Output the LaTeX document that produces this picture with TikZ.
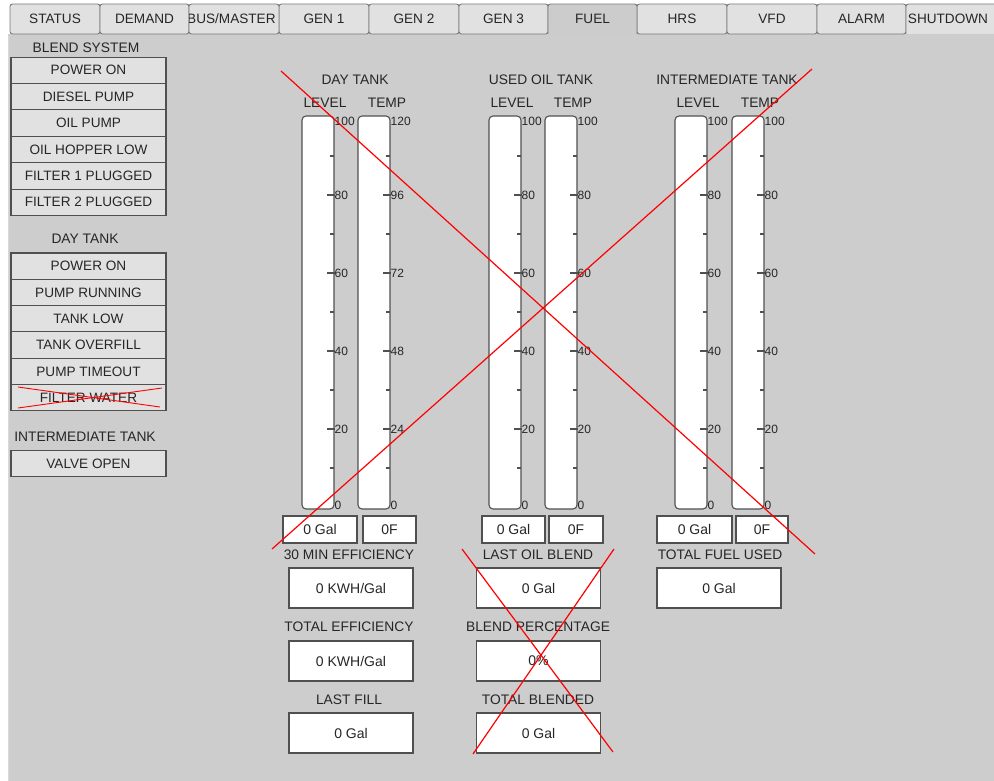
\documentclass[tikz,border=0pt]{standalone}
\usepackage{fontspec}
\setmainfont{Liberation Sans}
\definecolor{panel}{HTML}{CDCDCD}
\definecolor{tabfill}{HTML}{E1E1E1}
\definecolor{tabsel}{HTML}{CCCCCC}
\definecolor{tabedge}{HTML}{7A7A7A}
\definecolor{edge}{HTML}{505050}
\definecolor{txt}{HTML}{262626}
\newcommand{\gaugetube}[3]{%
  \node[tube] (#1) at (#2+16,312.5) {};
  \foreach \yy in {195,273,351,429} \draw[tickmk] (#2+25,\yy) -- (#2+33,\yy);
  \foreach \yy in {156,234,312,390,468} \draw[tickmk] (#2+28,\yy) -- (#2+32,\yy);
  \foreach \yy/\vv in {#3} \node[scl] (#1l\vv) at (#2+32.5,\yy) {\vv};
}
\begin{document}
\begin{tikzpicture}[x=1pt,y=-1pt,
  tabstyle/.style={draw=tabedge,fill=tabfill,line width=0.9pt,rounded corners=2.5pt},
  tabtext/.style={text=txt,font=\fontsize{13.6}{15}\selectfont,inner sep=0pt},
  lamp/.style={draw=edge,fill=tabfill,line width=1.1pt,minimum width=155pt,minimum height=26.4pt,inner sep=0pt,text=txt,font=\fontsize{13.6}{15}\selectfont},
  lbl/.style={text=txt,font=\fontsize{13.8}{15}\selectfont,inner sep=0pt},
  tube/.style={draw=edge,fill=white,line width=1.1pt,rounded corners=4pt,minimum width=32pt,minimum height=393pt,inner sep=0pt},
  tickmk/.style={draw=edge,line width=1.1pt},
  scl/.style={anchor=west,text=txt,font=\fontsize{12}{13}\selectfont,inner sep=0pt},
  valbox/.style={draw=edge,fill=white,line width=1.1pt,inner sep=0pt,text=txt,font=\fontsize{14}{16}\selectfont},
  redx/.style={draw=red,line width=1.2pt}]
\useasboundingbox (0,0) rectangle (994,781);
\fill[white] (0,0) rectangle (994,781);
\fill[panel] (8,34) rectangle (994,781);
\draw[white!85!black,line width=1pt] (8.5,36) -- (8.5,781);
% tabs
\foreach \l/\r/\t [count=\i] in {10/100/STATUS,100/189/DEMAND,279/369/GEN 1,369/459/GEN 2,459/548/GEN 3,637/727/HRS,727/817/VFD,817/906/ALARM}{
  \draw[tabstyle] (\l,34) -- (\l,4) -- (\r,4) -- (\r,34) -- cycle;
  \node[tabtext] (tab\i) at ({(\l+\r)/2},18.5) {\t};
}
\draw[tabstyle] (189,34) -- (189,4) -- (279,4) -- (279,34) -- cycle;
\begin{scope}
  \clip (189.5,4) rectangle (278.5,34);
  \node[tabtext,anchor=west] (tabbus) at (187,18.5) {BUS/MASTER};
\end{scope}
\draw[tabstyle] (906,34) -- (906,4) -- (1000,4) -- (1000,34);
\node[tabtext] (tabshut) at (948,18.5) {SHUTDOWN};
\fill[tabsel] (548,35) -- (548,4) -- (637,4) -- (637,35) -- cycle;
\draw[tabstyle,fill=none] (548,34) -- (548,4) -- (637,4) -- (637,34);
\node[tabtext] (tabfuel) at (592.5,18.5) {FUEL};
% left panel
\node[lbl] (hblend) at (86,48) {BLEND SYSTEM};
\node[lamp] (b1) at (88.5,70.3) {POWER ON};
\node[lamp] (b2) at (88.5,96.7) {DIESEL PUMP};
\node[lamp] (b3) at (88.5,123.1) {OIL PUMP};
\node[lamp] (b4) at (88.5,149.5) {OIL HOPPER LOW};
\node[lamp] (b5) at (88.5,175.9) {FILTER 1 PLUGGED};
\node[lamp] (b6) at (88.5,202.3) {FILTER 2 PLUGGED};
\node[lbl] (hday) at (85,239) {DAY TANK};
\node[lamp] (d1) at (88.5,266.2) {POWER ON};
\node[lamp] (d2) at (88.5,292.5) {PUMP RUNNING};
\node[lamp] (d3) at (88.5,318.8) {TANK LOW};
\node[lamp] (d4) at (88.5,345.1) {TANK OVERFILL};
\node[lamp] (d5) at (88.5,371.4) {PUMP TIMEOUT};
\node[lamp] (d6) at (88.5,397.7) {FILTER WATER};
\node[lbl] (hint) at (85,437) {INTERMEDIATE TANK};
\node[lamp] (v1) at (88.5,463.5) {VALVE OPEN};
\draw[redx,line width=0.9pt] (18,387) -- (160,407);
\draw[redx,line width=0.9pt] (18,408) -- (162,388);
% gauge titles
\node[lbl] (tday) at (355,80) {DAY TANK};
\node[lbl] (tused) at (541,80) {USED OIL TANK};
\node[lbl] (tinter) at (727,80) {INTERMEDIATE TANK};
\node[lbl] (hl1) at (325,103) {LEVEL};
\node[lbl] (ht1) at (387,103) {TEMP};
\node[lbl] (hl2) at (512,103) {LEVEL};
\node[lbl] (ht2) at (573,103) {TEMP};
\node[lbl] (hl3) at (698,103) {LEVEL};
\node[lbl] (ht3) at (760,103) {TEMP};
% gauges
\gaugetube{g1}{302}{121/100,195/80,273/60,351/40,429/20,505/0}
\gaugetube{g2}{358}{121/120,195/96,273/72,351/48,429/24,505/0}
\gaugetube{g3}{489}{121/100,195/80,273/60,351/40,429/20,505/0}
\gaugetube{g4}{545}{121/100,195/80,273/60,351/40,429/20,505/0}
\gaugetube{g5}{675}{121/100,195/80,273/60,351/40,429/20,505/0}
\gaugetube{g6}{732}{121/100,195/80,273/60,351/40,429/20,505/0}
% value boxes
\node[valbox,minimum width=74pt,minimum height=27pt] (v1l) at (320,529.5) {0 Gal};
\node[valbox,minimum width=53pt,minimum height=27pt] (v1t) at (389.5,529.5) {0F};
\node[valbox,minimum width=63pt,minimum height=27pt] (v2l) at (513.5,529.5) {0 Gal};
\node[valbox,minimum width=54pt,minimum height=27pt] (v2t) at (576,529.5) {0F};
\node[valbox,minimum width=75pt,minimum height=27pt] (v3l) at (694.5,529.5) {0 Gal};
\node[valbox,minimum width=52pt,minimum height=27pt] (v3t) at (762,529.5) {0F};
% lower boxes
\node[lbl] (l1) at (349,555) {30 MIN EFFICIENCY};
\node[valbox,minimum width=124pt,minimum height=40pt] (e1) at (351,588) {0 KWH/Gal};
\node[lbl] (l2) at (349,627) {TOTAL EFFICIENCY};
\node[valbox,minimum width=124pt,minimum height=40pt] (e2) at (351,661) {0 KWH/Gal};
\node[lbl] (l3) at (349,700) {LAST FILL};
\node[valbox,minimum width=124pt,minimum height=40pt] (e3) at (351,733) {0 Gal};
\node[lbl] (m1) at (538,555) {LAST OIL BLEND};
\node[valbox,minimum width=124pt,minimum height=40pt] (f1) at (538.5,588) {0 Gal};
\node[lbl] (m2) at (538,627) {BLEND PERCENTAGE};
\node[valbox,minimum width=124pt,minimum height=40pt] (f2) at (538.5,661) {0\%};
\node[lbl] (m3) at (538,700) {TOTAL BLENDED};
\node[valbox,minimum width=124pt,minimum height=40pt] (f3) at (538.5,733) {0 Gal};
\node[lbl] (r1) at (720,555) {TOTAL FUEL USED};
\node[valbox,minimum width=124pt,minimum height=40pt] (u1) at (719,588) {0 Gal};
% red crosses
\draw[redx] (281,71) -- (815,554);
\draw[redx] (812,69) -- (272,549);
\draw[redx] (462,549) -- (613,752);
\draw[redx] (614,549) -- (473,754);
\end{tikzpicture}
\end{document}
